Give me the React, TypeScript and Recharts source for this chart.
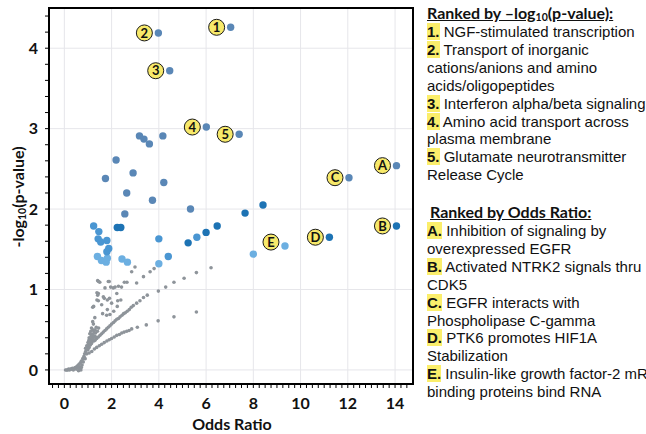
import React from 'react';
import { ScatterChart, Scatter, XAxis, YAxis, CartesianGrid, ReferenceArea } from 'recharts';

type Pt = { x: number; y: number; tag?: string };

const X_MAJOR = [0, 2, 4, 6, 8, 10, 12, 14];
const Y_MAJOR = [0, 1, 2, 3, 4];
const X_DOMAIN: [number, number] = [-0.65, 14.76];
const Y_DOMAIN: [number, number] = [-0.175, 4.5];
const X_MINOR = Array.from({ length: 61 }, (_, i) => -0.5 + i * 0.25);
const Y_MINOR = Array.from({ length: 23 }, (_, i) => i * 0.2);

// top hits, muted steel blue
const steelPts: Pt[] = [
  { x: 7.04, y: 4.26, tag: '1' }, { x: 3.98, y: 4.19, tag: '2' }, { x: 4.46, y: 3.72, tag: '3' },
  { x: 6.01, y: 3.02, tag: '4' }, { x: 7.4, y: 2.93, tag: '5' }, { x: 14.06, y: 2.54, tag: 'A' },
  { x: 12.05, y: 2.39, tag: 'C' },
  { x: 3.18, y: 2.91 }, { x: 3.37, y: 2.87 }, { x: 3.6, y: 2.81 }, { x: 4.17, y: 2.91 },
  { x: 2.19, y: 2.61 }, { x: 2.91, y: 2.45 }, { x: 1.74, y: 2.38 }, { x: 4.21, y: 2.33 },
  { x: 2.64, y: 2.2 }, { x: 3.73, y: 2.11 }, { x: 5.34, y: 2.0 }, { x: 2.56, y: 1.94 },
];

const brightPts: Pt[] = [
  { x: 8.41, y: 2.05 }, { x: 7.65, y: 1.95 }, { x: 6.47, y: 1.79 }, { x: 6.0, y: 1.71 },
  { x: 5.24, y: 1.58 }, { x: 2.24, y: 1.77 }, { x: 2.39, y: 1.77 },
  { x: 14.06, y: 1.79, tag: 'B' }, { x: 11.22, y: 1.65, tag: 'D' },
];

const mediumPts: Pt[] = [
  { x: 1.24, y: 1.79 }, { x: 1.46, y: 1.72 }, { x: 1.43, y: 1.63 }, { x: 1.54, y: 1.59 },
  { x: 1.8, y: 1.61 }, { x: 1.88, y: 1.51 }, { x: 1.8, y: 1.47 }, { x: 4.0, y: 1.63 },
  { x: 4.4, y: 1.41 }, { x: 5.61, y: 1.65 },
];

const lightPts: Pt[] = [
  { x: 1.4, y: 1.41 }, { x: 1.57, y: 1.36 }, { x: 1.77, y: 1.34 }, { x: 1.82, y: 1.39 },
  { x: 2.44, y: 1.38 }, { x: 2.67, y: 1.34 }, { x: 4.0, y: 1.32 }, { x: 8.0, y: 1.44 },
  { x: 9.34, y: 1.54, tag: 'E' },
];

// non-significant pathways
const greyXY: [number, number][] = [
  [0.05, 0], [0.1, 0], [0.14, 0], [0.18, 0.01], [0.22, 0], [0.26, 0.01], [0.3, 0.01], [0.34, 0.02],
  [0.38, 0], [0.42, 0.02], [0.46, 0.03], [0.5, 0.01], [0.52, 0.04], [0.56, 0.05], [0.6, 0.02],
  [0.62, 0.07], [0.66, 0.04], [0.68, 0.09], [0.7, 0], [0.72, 0.11], [0.75, 0.06], [0.78, 0.14],
  [0.8, 0.1], [0.83, 0.17], [0.86, 0.2], [0.88, 0.14], [0.9, 0.23], [0.93, 0.26], [0.95, 0.2],
  [0.98, 0.29], [1.0, 0.25], [1.02, 0.32], [1.05, 0.28], [1.07, 0.35], [1.1, 0.31], [1.12, 0.38],
  [1.15, 0.33], [1.18, 0.4], [1.2, 0.36], [0.6, -0.01], [0.66, 0.01], [0.72, 0.03],
  // lower arm
  [1.05, 0.21], [1.16, 0.23], [1.27, 0.26], [1.37, 0.28], [1.48, 0.3], [1.58, 0.32], [1.69, 0.34],
  [1.8, 0.36], [1.9, 0.375], [2.0, 0.39], [2.11, 0.41], [2.22, 0.43], [2.33, 0.44], [2.43, 0.46],
  [2.53, 0.47], [2.64, 0.48], [2.74, 0.49], [2.85, 0.51], [3.09, 0.53], [3.47, 0.56], [3.97, 0.61],
  [4.64, 0.66], [5.59, 0.72],
  // middle / upper arm
  [1.25, 0.36], [1.3, 0.37], [1.37, 0.39], [1.44, 0.41], [1.51, 0.43], [1.58, 0.45], [1.65, 0.47],
  [1.72, 0.49], [1.79, 0.51], [1.86, 0.53], [1.93, 0.55], [2.0, 0.57], [2.08, 0.59], [2.15, 0.61],
  [2.22, 0.63], [2.29, 0.64], [2.36, 0.66], [2.44, 0.68], [2.51, 0.7], [2.58, 0.71], [2.66, 0.73],
  [2.75, 0.75], [2.83, 0.78], [2.92, 0.8], [3.06, 0.83], [3.2, 0.86], [3.35, 0.9], [3.51, 0.93],
  [3.98, 0.98], [4.29, 1.03], [4.64, 1.09], [5.07, 1.14], [5.59, 1.21], [6.21, 1.27],
  // steep arm and scatter
  [1.1, 0.45], [1.2, 0.5], [1.23, 0.57], [1.2, 0.6], [1.29, 0.65], [1.62, 0.7], [1.79, 0.68],
  [1.93, 0.69], [2.09, 0.73], [2.24, 0.79], [2.39, 0.87], [2.42, 1.03], [2.54, 1.09], [2.65, 1.09],
  [2.85, 1.22], [2.99, 1.28], [3.06, 1.08], [3.35, 1.16], [3.63, 1.22], [3.8, 1.26], [2.29, 1.04],
  [2.22, 0.95], [2.26, 0.86], [1.41, 1.11], [1.45, 1.1], [1.5, 1.09], [1.72, 1.02], [1.86, 1.1],
  [1.9, 1.1], [1.96, 1.03], [2.07, 1.02], [2.15, 1.03], [1.38, 0.96], [1.41, 0.93], [1.44, 0.95],
  [1.38, 0.87], [1.44, 0.86], [1.69, 0.89], [1.82, 0.87], [1.65, 0.91], [1.91, 0.89], [2.0, 0.83],
  [1.24, 0.79], [1.2, 0.78], [1.58, 0.81], [1.82, 0.75],
  // dense band
  [1.05, 0.4], [1.08, 0.45], [1.12, 0.48], [1.15, 0.52], [1.2, 0.44], [1.25, 0.47], [1.3, 0.5],
  [1.35, 0.53], [1.1, 0.36], [1.14, 0.42], [1.28, 0.42], [1.32, 0.46], [1.4, 0.48], [1.45, 0.52],
  [0.95, 0.3], [1.0, 0.34], [1.04, 0.37], [0.9, 0.27], [1.22, 0.39], [1.33, 0.41],
];
const greyPts: Pt[] = greyXY.map(([x, y]) => ({ x, y }));

const rankedByP = [
  { key: '1.', lines: ['NGF-stimulated transcription'] },
  { key: '2.', lines: ['Transport of inorganic', 'cations/anions and amino', 'acids/oligopeptides'] },
  { key: '3.', lines: ['Interferon alpha/beta signaling'] },
  { key: '4.', lines: ['Amino acid transport across', 'plasma membrane'] },
  { key: '5.', lines: ['Glutamate neurotransmitter', 'Release Cycle'] },
];
const rankedByOR = [
  { key: 'A.', lines: ['Inhibition of signaling by', 'overexpressed EGFR'] },
  { key: 'B.', lines: ['Activated NTRK2 signals thru', 'CDK5'] },
  { key: 'C.', lines: ['EGFR interacts with', 'Phospholipase C-gamma'] },
  { key: 'D.', lines: ['PTK6 promotes HIF1A', 'Stabilization'] },
  { key: 'E.', lines: ['Insulin-like growth factor-2 mRNA', 'binding proteins bind RNA'] },
];

const TICK_FONT = 'Lato, "Open Sans", sans-serif';
const TAG_DY: Record<string, number> = { E: -4 };

const makeDot = (r: number, fill: string) => (props: any) => {
  const { cx, cy, payload } = props;
  if (cx == null || cy == null) return <g />;
  const tag = payload?.tag;
  const by = cy + (tag ? TAG_DY[tag] || 0 : 0);
  return (
    <g>
      <circle cx={cx} cy={cy} r={r} fill={fill} />
      {tag && (
        <g>
          <circle cx={cx - 14} cy={by} r={8} fill="#f7e96a" stroke="#1a1a1a" strokeWidth={1} />
          <text x={cx - 14} y={by} dy="0.36em" textAnchor="middle" fontSize={13} fontWeight={700}
            fontFamily={TICK_FONT} fill="#111">{tag}</text>
        </g>
      )}
    </g>
  );
};

const isMajor = (v: number, majors: number[]) => majors.some((m) => Math.abs(m - v) < 1e-6);

const XTick = (props: any) => {
  const { x, y, payload } = props;
  if (!isMajor(payload.value, X_MAJOR)) return <g />;
  return (
    <text x={x} y={y} dy="0.74em" textAnchor="middle" fontSize={16} fontWeight={700}
      fontFamily={TICK_FONT} fill="#111">{Math.round(payload.value)}</text>
  );
};

const YTick = (props: any) => {
  const { x, y, payload } = props;
  if (!isMajor(payload.value, Y_MAJOR)) return <g />;
  return (
    <text x={x} y={y} dy="0.36em" textAnchor="end" fontSize={16} fontWeight={700}
      fontFamily={TICK_FONT} fill="#111">{Math.round(payload.value)}</text>
  );
};

const Hl = ({ children }: { children: React.ReactNode }) => (
  <span style={{ background: '#fbee6b', fontWeight: 700 }}>{children}</span>
);

const Sub = ({ children }: { children: React.ReactNode }) => (
  <span style={{ fontSize: 10.5, position: 'relative', top: 2, lineHeight: 0 }}>{children}</span>
);

const RankList = ({ items }: { items: { key: string; lines: string[] }[] }) => (
  <div>
    {items.map((it) => (
      <div key={it.key}>
        {it.lines.map((ln, i) => (
          <div key={i} style={{ whiteSpace: 'nowrap' }}>
            {i === 0 ? <><Hl>{it.key}</Hl> </> : null}
            {ln}
          </div>
        ))}
      </div>
    ))}
  </div>
);

export default function App() {
  return (
    <div style={{ position: 'absolute', left: 0, top: 0, width: 646, height: 434, background: '#fff', overflow: 'hidden' }}>
      <ScatterChart width={415} height={434} margin={{ top: 8, right: 2, bottom: 0, left: 0 }}>
        <CartesianGrid stroke="#e6e6ea" strokeWidth={1}
          horizontalValues={Y_MAJOR} verticalValues={X_MAJOR} />
        <XAxis type="number" dataKey="x" domain={X_DOMAIN} ticks={X_MINOR} allowDataOverflow
          height={50} interval={0} tickSize={4} tickMargin={9}
          axisLine={{ stroke: '#000', strokeWidth: 2 }} tickLine={{ stroke: '#000' }} tick={<XTick />} />
        <YAxis type="number" dataKey="y" domain={Y_DOMAIN} ticks={Y_MINOR} allowDataOverflow
          width={49} interval={0} tickSize={4} tickMargin={7}
          axisLine={{ stroke: '#000', strokeWidth: 2 }} tickLine={{ stroke: '#000' }} tick={<YTick />} />
        <ReferenceArea x1={X_DOMAIN[0]} x2={X_DOMAIN[1]} y1={Y_DOMAIN[0]} y2={Y_DOMAIN[1]}
          fill="none" fillOpacity={0} stroke="#000" strokeWidth={2} />
        <Scatter data={greyPts} isAnimationActive={false} shape={makeDot(1.8, '#8e949a')} />
        <Scatter data={lightPts} isAnimationActive={false} shape={makeDot(3.7, '#6cafe1')} />
        <Scatter data={mediumPts} isAnimationActive={false} shape={makeDot(3.7, '#4a96d2')} />
        <Scatter data={brightPts} isAnimationActive={false} shape={makeDot(3.7, '#1d73b4')} />
        <Scatter data={steelPts} isAnimationActive={false} shape={makeDot(3.7, '#5a87b6')} />
      </ScatterChart>

      <div style={{ position: 'absolute', left: 232, top: 423, transform: 'translate(-50%, -50%)',
        fontFamily: TICK_FONT, fontWeight: 700, fontSize: 16, color: '#111', whiteSpace: 'nowrap' }}>
        Odds Ratio
      </div>
      <div style={{ position: 'absolute', left: 18, top: 197, transform: 'translate(-50%, -50%) rotate(-90deg)',
        fontFamily: TICK_FONT, fontWeight: 700, fontSize: 16, lineHeight: '20px', color: '#111', whiteSpace: 'nowrap' }}>
        -log<Sub>10</Sub>(p-value)
      </div>

      <div style={{ position: 'absolute', left: 427, top: 3, width: 240,
        fontFamily: '"Liberation Sans", Arial, sans-serif', fontSize: 15, lineHeight: '17.9px', color: '#111' }}>
        <div style={{ fontFamily: TICK_FONT, fontWeight: 700, fontSize: 16, textDecoration: 'underline',
          lineHeight: '20px', whiteSpace: 'nowrap' }}>
          Ranked by –log<Sub>10</Sub>(p-value):
        </div>
        <RankList items={rankedByP} />
      </div>

      <div style={{ position: 'absolute', left: 427, top: 202, width: 240,
        fontFamily: '"Liberation Sans", Arial, sans-serif', fontSize: 15, lineHeight: '17.9px', color: '#111' }}>
        <div style={{ fontFamily: TICK_FONT, fontWeight: 700, fontSize: 16, textDecoration: 'underline',
          lineHeight: '20px', whiteSpace: 'nowrap', paddingLeft: 3 }}>
          Ranked by Odds Ratio:
        </div>
        <RankList items={rankedByOR} />
      </div>
    </div>
  );
}
